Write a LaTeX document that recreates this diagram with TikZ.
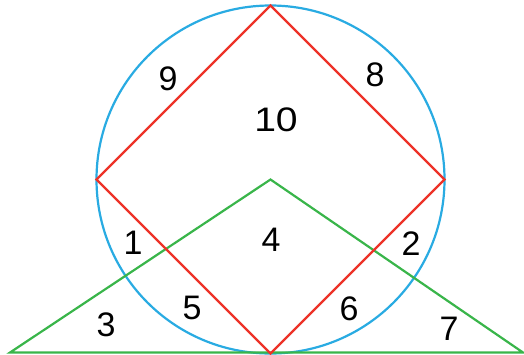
\documentclass[tikz,border=0pt]{standalone}
\usepackage{fontspec}
\setmainfont{Liberation Sans}
\usepackage{xcolor}
\usetikzlibrary{arrows.meta}
\definecolor{circblue}{RGB}{41,171,226}
\definecolor{sqred}{RGB}{237,50,40}
\definecolor{trigreen}{RGB}{57,181,74}

\begin{document}
\begin{tikzpicture}[x=0.5pt, y=-0.5pt, line width=1.1pt,
  every node/.style={inner sep=0pt, font=\fontsize{17}{17}\selectfont}]
  \useasboundingbox (0,0) rectangle (524,354);
  \coordinate (o) at (270.5,179.5);
  \coordinate (t) at (270.5,5.5);
  \coordinate (l) at (96.5,179.5);
  \coordinate (r) at (444.5,179.5);
  \coordinate (b) at (270.5,353.5);
  \coordinate (bl) at (10,352.5);
  \coordinate (br) at (523,352.5);
  \draw[circblue] (o) circle[radius=174];
  \draw[trigreen] (bl) -- (o) -- (br) -- cycle;
  \draw[sqred, line join=miter] (t) -- (r) -- (b) -- (l) -- cycle;
  \node (n9) at (168,79) {9};
  \node (n8) at (375,75) {8};
  \node[xscale=1.15] (n10) at (276,120) {10};
  \node (n1) at (133,243) {1};
  \node (n4) at (271,240) {4};
  \node (n2) at (411,244) {2};
  \node (n3) at (106,325) {3};
  \node (n5) at (192,308) {5};
  \node (n6) at (349,309) {6};
  \node (n7) at (449,329) {7};
\end{tikzpicture}
\end{document}
